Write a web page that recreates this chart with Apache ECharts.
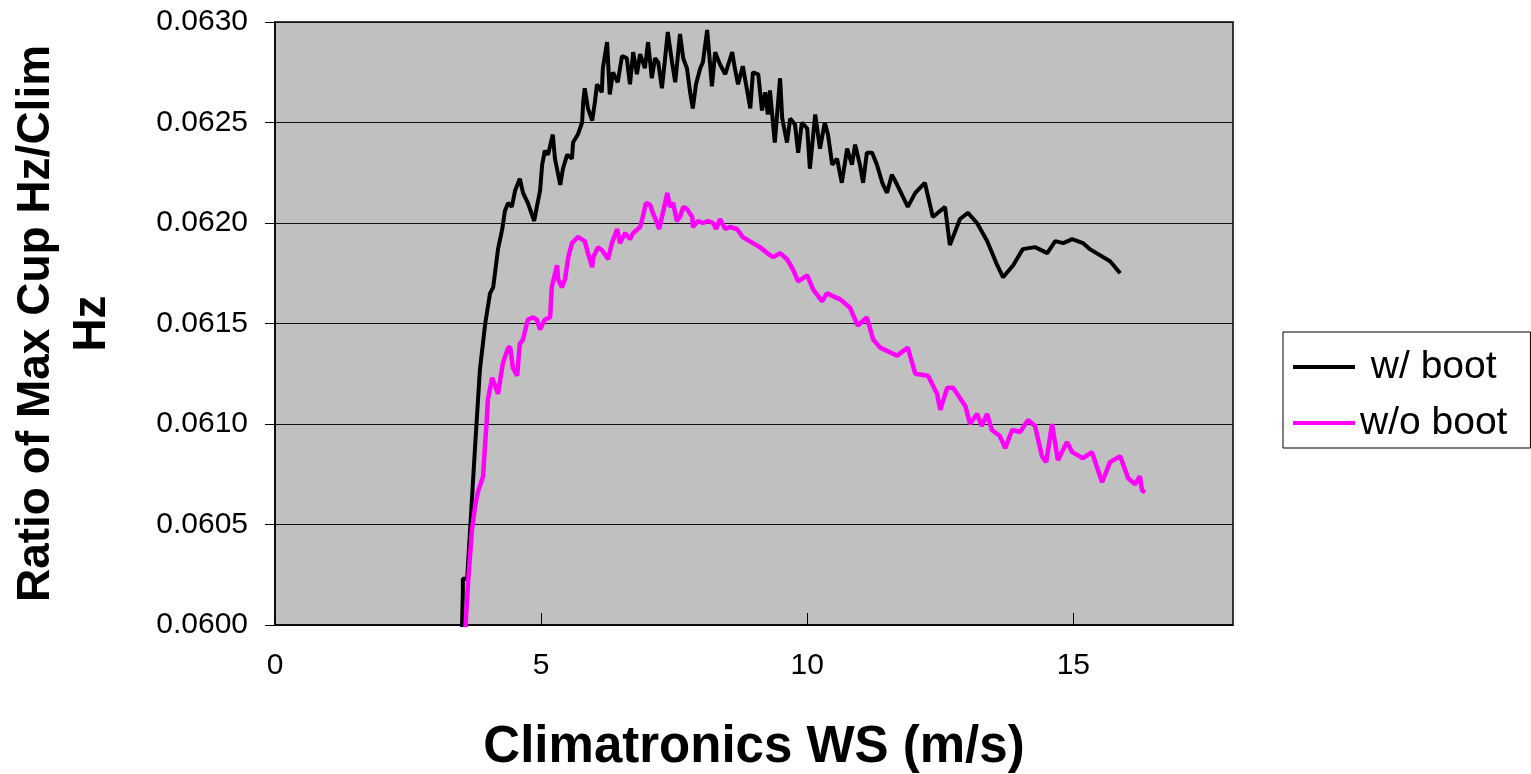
<!DOCTYPE html>
<html>
<head>
<meta charset="utf-8">
<script src="https://cdn.jsdelivr.net/npm/echarts@6/dist/echarts.min.js"></script>
<style>
  html, body { margin: 0; padding: 0; background: #fff; }
  #main { width: 1531px; height: 774px; }
</style>
</head>
<body>
<div id="main"></div>
<script>
// [wind speed m/s, ratio]
var bootData = [
  [3.51, 0.05995], [3.53, 0.06017], [3.53, 0.06023], [3.61, 0.06023], [3.76, 0.06089], [3.85, 0.06127], [3.95, 0.06150], [4.04, 0.06165],
  [4.10, 0.06168], [4.19, 0.06187], [4.27, 0.06197], [4.32, 0.06206], [4.38, 0.06210], [4.45, 0.06208], [4.51, 0.06216], [4.60, 0.06222],
  [4.66, 0.06215], [4.75, 0.06210], [4.87, 0.06201], [4.92, 0.06208], [4.98, 0.06216], [5.02, 0.06229], [5.07, 0.06236], [5.13, 0.06234],
  [5.22, 0.06244], [5.26, 0.06232], [5.36, 0.06219], [5.41, 0.06227], [5.49, 0.06234], [5.58, 0.06232], [5.60, 0.06240], [5.69, 0.06244],
  [5.77, 0.06250], [5.79, 0.06260], [5.82, 0.06267], [5.88, 0.06257], [5.96, 0.06251], [6.01, 0.06260], [6.05, 0.06269], [6.14, 0.06265],
  [6.16, 0.06277], [6.24, 0.06290], [6.29, 0.06264], [6.35, 0.06275], [6.44, 0.06270], [6.52, 0.06283], [6.61, 0.06282], [6.67, 0.06269],
  [6.73, 0.06285], [6.80, 0.06274], [6.86, 0.06284], [6.95, 0.06277], [7.01, 0.06290], [7.08, 0.06272], [7.14, 0.06282], [7.20, 0.06280],
  [7.27, 0.06267], [7.33, 0.06282], [7.38, 0.06295], [7.46, 0.06280], [7.52, 0.06270], [7.61, 0.06294], [7.67, 0.06282], [7.74, 0.06277],
  [7.80, 0.06265], [7.85, 0.06257], [7.91, 0.06269], [7.99, 0.06277], [8.04, 0.06280], [8.12, 0.06296], [8.21, 0.06268], [8.27, 0.06285],
  [8.36, 0.06279], [8.46, 0.06274], [8.59, 0.06285], [8.64, 0.06277], [8.70, 0.06269], [8.79, 0.06278], [8.93, 0.06257], [8.98, 0.06275],
  [9.08, 0.06274], [9.15, 0.06256], [9.21, 0.06265], [9.26, 0.06254], [9.30, 0.06266], [9.39, 0.06240], [9.49, 0.06272], [9.53, 0.06252],
  [9.62, 0.06240], [9.68, 0.06252], [9.77, 0.06249], [9.83, 0.06235], [9.90, 0.06250], [10.00, 0.06247], [10.05, 0.06227], [10.15, 0.06254],
  [10.24, 0.06237], [10.33, 0.06250], [10.39, 0.06244], [10.47, 0.06229], [10.56, 0.06232], [10.65, 0.06220], [10.75, 0.06237], [10.84, 0.06229],
  [10.90, 0.06239], [10.99, 0.06229], [11.05, 0.06220], [11.12, 0.06235], [11.22, 0.06235], [11.31, 0.06229], [11.41, 0.06220], [11.50, 0.06215],
  [11.59, 0.06224], [11.69, 0.06219], [11.89, 0.06208], [12.03, 0.06215], [12.21, 0.06220], [12.36, 0.06203], [12.59, 0.06208], [12.68, 0.06189],
  [12.87, 0.06202], [13.02, 0.06205], [13.19, 0.06200], [13.38, 0.06191], [13.57, 0.06179], [13.68, 0.06173], [13.87, 0.06179], [14.05, 0.06187],
  [14.28, 0.06188], [14.51, 0.06185], [14.66, 0.06191], [14.81, 0.06190], [14.98, 0.06192], [15.18, 0.06190], [15.31, 0.06187], [15.69, 0.06181],
  [15.88, 0.06175]
];

var noBootData = [
  [3.57, 0.05995], [3.63, 0.06022], [3.70, 0.06047], [3.76, 0.06059], [3.81, 0.06066], [3.91, 0.06074], [3.95, 0.06091], [3.98, 0.06102],
  [4.00, 0.06112], [4.08, 0.06123], [4.19, 0.06115], [4.28, 0.06130], [4.38, 0.06138], [4.42, 0.06138], [4.47, 0.06128], [4.55, 0.06124],
  [4.60, 0.06140], [4.66, 0.06142], [4.75, 0.06152], [4.85, 0.06153], [4.92, 0.06152], [4.98, 0.06147], [5.07, 0.06152], [5.17, 0.06153],
  [5.20, 0.06168], [5.30, 0.06179], [5.32, 0.06172], [5.39, 0.06168], [5.45, 0.06172], [5.51, 0.06183], [5.58, 0.06190], [5.69, 0.06193],
  [5.82, 0.06191], [5.88, 0.06185], [5.96, 0.06178], [5.98, 0.06183], [6.07, 0.06188], [6.16, 0.06186], [6.26, 0.06182], [6.33, 0.06190],
  [6.43, 0.06197], [6.48, 0.06190], [6.58, 0.06195], [6.67, 0.06192], [6.73, 0.06195], [6.86, 0.06198], [6.91, 0.06203], [6.97, 0.06210],
  [7.05, 0.06209], [7.10, 0.06205], [7.18, 0.06200], [7.22, 0.06197], [7.27, 0.06203], [7.33, 0.06210], [7.37, 0.06215], [7.42, 0.06208],
  [7.48, 0.06210], [7.55, 0.06201], [7.61, 0.06203], [7.67, 0.06208], [7.74, 0.06207], [7.84, 0.06203], [7.85, 0.06198], [7.95, 0.06201],
  [8.04, 0.06200], [8.14, 0.06201], [8.23, 0.06200], [8.29, 0.06197], [8.36, 0.06202], [8.46, 0.06197], [8.55, 0.06198], [8.68, 0.06197],
  [8.79, 0.06193], [8.98, 0.06190], [9.11, 0.06188], [9.30, 0.06184], [9.36, 0.06183], [9.49, 0.06185], [9.62, 0.06182], [9.73, 0.06177],
  [9.83, 0.06171], [10.00, 0.06174], [10.11, 0.06167], [10.28, 0.06161], [10.37, 0.06165], [10.62, 0.06162], [10.80, 0.06158], [10.95, 0.06149],
  [11.12, 0.06153], [11.24, 0.06142], [11.37, 0.06138], [11.69, 0.06134], [11.89, 0.06138], [12.03, 0.06125], [12.27, 0.06124], [12.44, 0.06115],
  [12.50, 0.06107], [12.63, 0.06118], [12.74, 0.06118], [12.97, 0.06109], [13.06, 0.06100], [13.19, 0.06105], [13.28, 0.06099], [13.38, 0.06105],
  [13.47, 0.06097], [13.62, 0.06094], [13.72, 0.06088], [13.85, 0.06097], [14.00, 0.06096], [14.15, 0.06102], [14.28, 0.06099], [14.41, 0.06084],
  [14.49, 0.06081], [14.60, 0.06100], [14.71, 0.06082], [14.88, 0.06091], [14.98, 0.06086], [15.18, 0.06083], [15.35, 0.06086], [15.54, 0.06071],
  [15.69, 0.06081], [15.88, 0.06084], [16.03, 0.06073], [16.16, 0.06070], [16.25, 0.06074], [16.29, 0.06067], [16.35, 0.06066]
];

var seriesNames = [' w/ boot', 'w/o boot'];

var chart = echarts.init(document.getElementById('main'));
var font = "'Liberation Sans', Arial, sans-serif";

option = {
    backgroundColor: '#ffffff',
    animation: false,
    grid: {
        left: 275, right: 298, top: 22, bottom: 149,
        outerBoundsMode: 'none',
        containLabel: false,
        show: true,
        backgroundColor: '#c0c0c0',
        borderColor: '#000000',
        borderWidth: 1.5
    },
    legend: {
        orient: 'vertical',
        left: 1283,
        top: 332,
        data: seriesNames,
        icon: 'rect',
        backgroundColor: '#ffffff',
        borderColor: '#000000',
        borderWidth: 1,
        borderRadius: 0,
        padding: [15, 23, 5, 10],
        itemWidth: 62,
        itemHeight: 4,
        itemGap: 16,
        itemTextGap: 10,
        textStyle: { fontFamily: font, fontSize: 39, color: '#000', lineHeight: 40 }
    },
    xAxis: {
        type: 'value',
        min: 0, max: 18, interval: 5,
        name: 'Climatronics WS (m/s)',
        nameLocation: 'middle',
        nameGap: 97,
        nameTextStyle: { fontFamily: font, fontSize: 51, fontWeight: 'bold', color: '#000' },
        axisLine: { show: true, lineStyle: { color: '#000', width: 1.5 } },
        axisTick: { show: true, inside: true, length: 12, lineStyle: { color: '#000', width: 1 } },
        axisLabel: { fontFamily: font, fontSize: 30, color: '#000', margin: 26, showMaxLabel: false },
        splitLine: { show: false }
    },
    yAxis: {
        type: 'value',
        min: 0.0600, max: 0.0630, interval: 0.0005,
        name: 'Ratio of Max Cup Hz/Clim\nHz',
        nameLocation: 'middle',
        nameRotate: 90,
        nameGap: 155,
        nameTextStyle: { fontFamily: font, fontSize: 46, fontWeight: 'bold', color: '#000', lineHeight: 56, align: 'center' },
        axisLine: { show: true, lineStyle: { color: '#000', width: 1.5 } },
        axisTick: { show: true, inside: false, length: 10, lineStyle: { color: '#000', width: 1 } },
        axisLabel: {
            fontFamily: font, fontSize: 30, color: '#000', margin: 27,
            formatter: function (v) { return v.toFixed(4); }
        },
        splitLine: { show: true, lineStyle: { color: '#111', width: 1 } }
    },
    series: [{
        name: seriesNames[0],
        type: 'line',
        symbol: 'none',
        color: '#000000',
        lineStyle: { color: '#000000', width: 4 },
        data: bootData
    }, {
        name: seriesNames[1],
        type: 'line',
        symbol: 'none',
        color: '#ff00ff',
        lineStyle: { color: '#ff00ff', width: 4.5 },
        data: noBootData
    }]
};
chart.setOption(option);
</script>
</body>
</html>
